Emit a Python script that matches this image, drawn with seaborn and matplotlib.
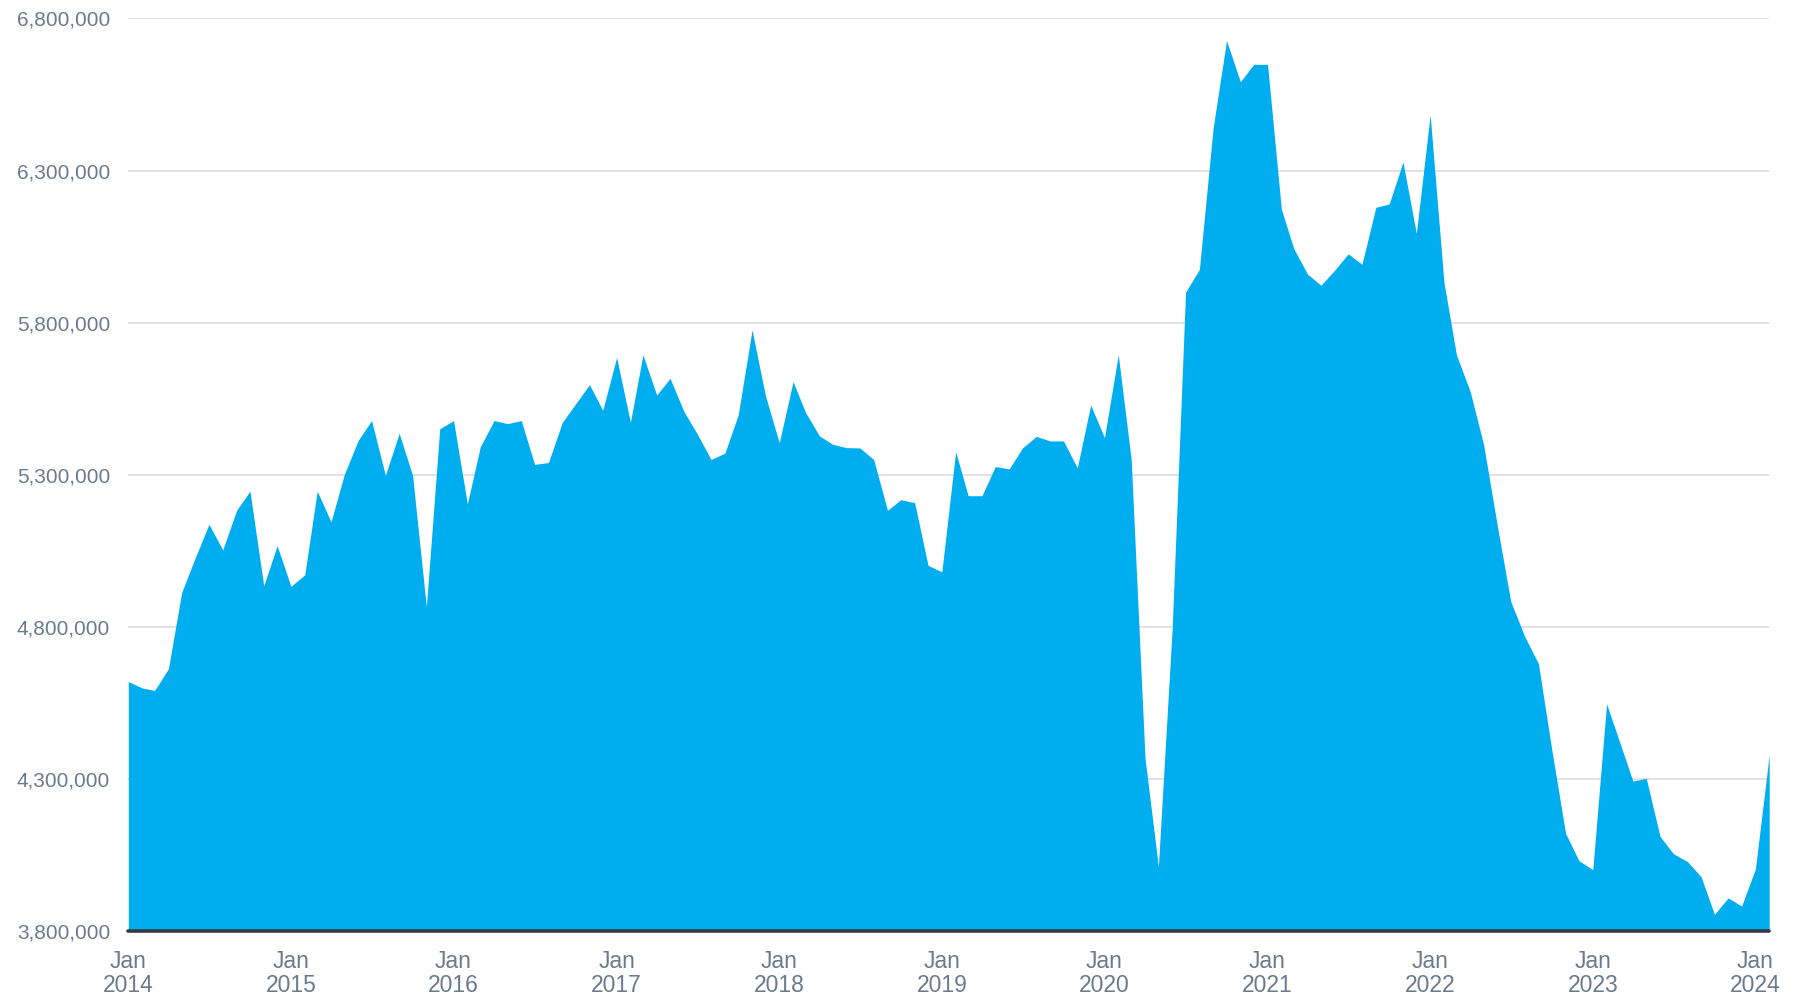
import matplotlib
matplotlib.use("Agg")
import matplotlib.pyplot as plt
import matplotlib.ticker as mticker
import seaborn as sns
import pandas as pd
import numpy as np

# Monthly values, Jan 2014 .. Feb 2024 (millions)
values_m = [
    4.620, 4.599, 4.591, 4.662, 4.914, 5.030, 5.137, 5.053, 5.183, 5.246, 4.935, 5.067,  # 2014
    4.933, 4.971, 5.246, 5.145, 5.302, 5.413, 5.478, 5.298, 5.436, 5.298, 4.866, 5.451,  # 2015
    5.478, 5.204, 5.392, 5.478, 5.468, 5.478, 5.334, 5.340, 5.472, 5.533, 5.596, 5.512,  # 2016
    5.686, 5.472, 5.694, 5.562, 5.617, 5.508, 5.434, 5.350, 5.371, 5.497, 5.776, 5.560,  # 2017
    5.405, 5.606, 5.505, 5.428, 5.400, 5.389, 5.388, 5.350, 5.183, 5.218, 5.208, 5.002,  # 2018
    4.981, 5.376, 5.231, 5.231, 5.327, 5.319, 5.388, 5.426, 5.411, 5.411, 5.323, 5.529,  # 2019
    5.422, 5.694, 5.350, 4.369, 4.012, 4.795, 5.900, 5.975, 6.441, 6.727, 6.592, 6.649,  # 2020
    6.649, 6.173, 6.043, 5.959, 5.923, 5.973, 6.026, 5.992, 6.179, 6.190, 6.328, 6.093,  # 2021
    6.483, 5.932, 5.694, 5.573, 5.399, 5.130, 4.883, 4.769, 4.679, 4.396, 4.121, 4.031,  # 2022
    4.002, 4.547, 4.427, 4.293, 4.302, 4.111, 4.054, 4.029, 3.979, 3.855, 3.909, 3.882,  # 2023
    4.004, 4.379,                                                                        # 2024
]
dates = pd.date_range("2014-01-01", periods=len(values_m), freq="MS")
values = [v * 1e6 for v in values_m]

tick_years = list(range(2014, 2025))
tick_labels = [f"Jan\n{y}" for y in tick_years]
y_ticks = [3800000, 4300000, 4800000, 5300000, 5800000, 6300000, 6800000]

df = pd.DataFrame({"date": dates, "value": values})

sns.set_theme(style="white")
plt.rcParams["font.family"] = ["Liberation Sans", "DejaVu Sans"]

fill_color = "#00AEEF"
text_color = "#6B7B8E"

fig = plt.figure(figsize=(18.02, 10.01), dpi=100)
ax = fig.add_axes([0.0712, 0.0699, 0.9106, 0.9117])

sns.lineplot(data=df, x="date", y="value", ax=ax, color=fill_color, linewidth=0)
ax.fill_between(df["date"], df["value"], 3800000, color=fill_color, linewidth=0, zorder=2)

ax.set_ylim(3800000, 6800000)
ax.set_xlim(dates[0], dates[-1])
ax.set_yticks(y_ticks)
ax.yaxis.set_major_formatter(mticker.FuncFormatter(lambda v, p: f"{int(v):,}"))
ax.set_xticks([pd.Timestamp(f"{y}-01-01") for y in tick_years])
ax.set_xticklabels(tick_labels)

ax.grid(axis="y", color="#DDDDE3", linewidth=1.3, zorder=0)
ax.grid(axis="x", visible=False)
ax.set_axisbelow(True)
for s in ax.spines.values():
    s.set_visible(False)
ax.axhline(3800000, color="#343a44", linewidth=2.6, zorder=5, clip_on=False)

ax.tick_params(axis="y", length=0, labelsize=15, labelcolor=text_color, pad=13)
ax.tick_params(axis="x", length=0, labelsize=16.5, labelcolor=text_color, pad=14)
for lab in ax.get_xticklabels():
    lab.set_linespacing(1.05)
ax.set_xlabel("")
ax.set_ylabel("")

fig.savefig("out.png", dpi=100)
